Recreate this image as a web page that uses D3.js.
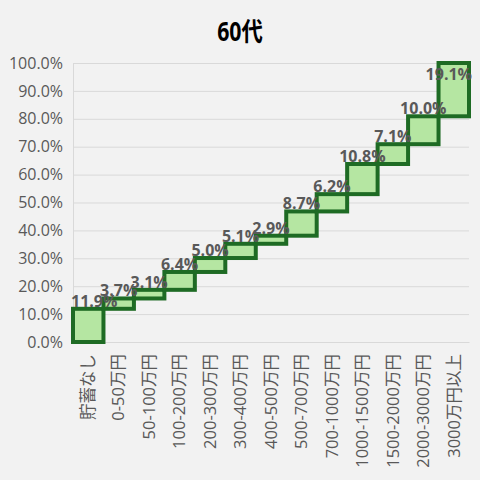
<!DOCTYPE html>
<html><head><meta charset="utf-8">
<script src="https://cdn.jsdelivr.net/npm/d3@7"></script>
<style>body{margin:0;background:#f2f2f2;}svg{display:block;}</style>
</head><body>
<svg id="c" width="480" height="480"></svg>
<script>
const categories = ["貯蓄なし","0-50万円","50-100万円","100-200万円","200-300万円","300-400万円","400-500万円","500-700万円","700-1000万円","1000-1500万円","1500-2000万円","2000-3000万円","3000万円以上"];
const values = [11.9,3.7,3.1,6.4,5.0,5.1,2.9,8.7,6.2,10.8,7.1,10.0,19.1];
const yTicks = [0,10,20,30,40,50,60,70,80,90,100];
const title = "60代";

const W=480,H=480, m={l:73,r:11,t:63,b:138};
const svg=d3.select("#c");
svg.append("rect").attr("width",W).attr("height",H).attr("fill","#f2f2f2");
const font='"Open Sans","Noto Sans CJK JP",sans-serif';

let acc=0;
const data=categories.map((c,i)=>{const s=acc; acc+=values[i]; return {c,v:values[i],s,e:acc};});

const x=d3.scaleBand().domain(categories).range([m.l,W-m.r]).padding(0);
const y=d3.scaleLinear().domain([0,100]).range([H-m.b,m.t]);

// grid
const gy=svg.append("g").attr("transform",`translate(${m.l},0)`)
  .call(d3.axisLeft(y).tickValues(yTicks).tickSize(-(W-m.l-m.r)).tickFormat(d=>d.toFixed(1)+"%"));
gy.select(".domain").attr("stroke","#d9d9d9");
gy.selectAll(".tick line").attr("stroke","#d9d9d9");
gy.selectAll(".tick text").attr("x",-10).attr("fill","#595959").style("font-family",font).style("font-size","16px");

// x axis
const gx=svg.append("g").attr("transform",`translate(0,${y(0)})`)
  .call(d3.axisBottom(x).tickSize(0));
gx.select(".domain").attr("stroke","#d9d9d9");
gx.selectAll(".tick text").attr("transform","rotate(-90)").attr("x",-12).attr("y",0).attr("dy","0.35em")
  .attr("text-anchor","end").attr("fill","#595959").style("font-family",font).style("font-size","16.5px");

// bars
svg.append("g").selectAll("rect").data(data).join("rect")
  .attr("x",d=>x(d.c)).attr("width",x.bandwidth())
  .attr("y",d=>y(d.e)).attr("height",d=>y(d.s)-y(d.e))
  .attr("fill","#b5e6a2").attr("stroke","#1e6b24").attr("stroke-width",4);

// labels
const lg=svg.append("g");
data.forEach(d=>{
  const t=lg.append("text").text(d.v.toFixed(1)+"%")
    .attr("x",x(d.c)+x.bandwidth()/2).attr("y",Math.max(y(d.e)-2,80))
    .attr("text-anchor","middle").attr("fill","#595959")
    .style("font-family",font).style("font-size","16px").style("font-weight","bold");
  const bb=t.node().getBBox();
  if(bb.x<71) t.attr("x",+t.attr("x")+(71-bb.x));
  if(bb.x+bb.width>472) t.attr("x",+t.attr("x")-(bb.x+bb.width-472));
});

// title
svg.append("text").text(title).attr("transform","translate(240,41) scale(0.82,1)").attr("text-anchor","middle")
  .attr("fill","#000").style("font-family",font).style("font-size","26px").style("font-weight","bold");
</script>
</body></html>
